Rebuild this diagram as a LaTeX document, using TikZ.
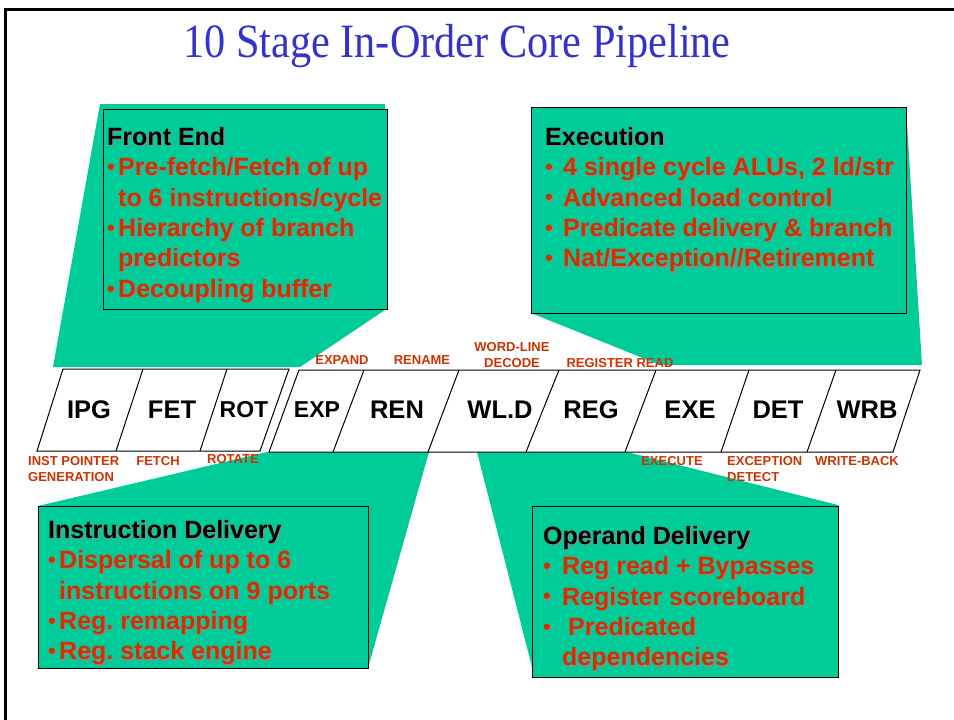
\documentclass[tikz,border=0pt]{standalone}
\usepackage{fontspec}
\setmainfont{Liberation Sans}
\newfontfamily\titlefont{Liberation Serif}
\definecolor{callout}{RGB}{0,204,153}
\definecolor{itemred}{RGB}{204,51,0}
\definecolor{titleblue}{RGB}{51,51,204}
\definecolor{txshadow}{RGB}{140,140,140}
% text with a small grey drop shadow
\newcommand\shd[2]{\rlap{\kern1.2pt\raisebox{-1.2pt}{\textcolor{txshadow}{#2}}}\textcolor{#1}{#2}}
% bullet set in a box of given width
\newcommand\bul[1]{\makebox[#1][l]{\raisebox{1.2pt}{\fontsize{22}{22}\selectfont\textbullet}}}
\begin{document}
\begin{tikzpicture}[x=1pt,y=-1pt,
  calloutbox/.style={draw=black,line width=1pt,fill=callout},
  stageshape/.style={draw=black,line width=1pt,fill=white},
  stagename/.style={font=\fontsize{25.5}{28}\selectfont\bfseries,inner sep=0,anchor=base},
  stagesmall/.style={font=\fontsize{23}{26}\selectfont\bfseries,inner sep=0,anchor=base},
  stagenote/.style={font=\fontsize{13}{16}\selectfont\bfseries,text=itemred,inner sep=0},
  boxtext/.style={font=\fontsize{25}{30.4}\selectfont\bfseries,inner sep=0,anchor=north west,align=left}]
\useasboundingbox (0,0) rectangle (954,720);

% slide frame
\draw[line width=3pt] (5.5,720) -- (5.5,9.5) -- (954,9.5);

% title (slightly condensed serif)
\node[font=\titlefont\fontsize{42.3}{46}\selectfont,text=titleblue,inner sep=0,anchor=base] (title) at (457,57) {\scalebox{1}[1.13]{10 Stage In-Order Core Pipeline}};

% callout wedges
\fill[callout] (100,104) -- (385,104) -- (385,310) -- (300,367) -- (53,367) -- cycle;
\fill[callout] (531,107) -- (906,107) -- (922,365) -- (660,365) -- (531,313) -- cycle;
\fill[callout] (38,506) -- (267,452) -- (429,452) -- (368,668) -- (38,668) -- cycle;
\fill[callout] (477,452) -- (627,452) -- (838,505) -- (838,677) -- (532,677) -- (532,667) -- cycle;

% callout boxes
\draw[calloutbox] (103,109) rectangle (387,309);
\draw[calloutbox] (531,107) rectangle (906,313);
\draw[calloutbox] (38,506) rectangle (368,668);
\draw[calloutbox] (532,506) rectangle (838,677);

% pipeline stages, front group
\draw[stageshape] (37,451) -- (63,369) -- (289,369) -- (260,451) -- cycle;
\draw[line width=1pt] (143,369) -- (116,451) (227,369) -- (200,451);
% pipeline stages, back group
\draw[stageshape] (269,452) -- (299,370) -- (920,370) -- (893,452) -- cycle;
\draw[line width=1pt] (364,370) -- (333,452) (459,370) -- (428,452) (559,370) -- (526,452)
  (656,370) -- (625,452) (749,370) -- (721,452) (836,370) -- (807,452);

% stage names
\node[stagename] (ipg) at (89,418) {IPG};
\node[stagename] (fet) at (172,418) {FET};
\node[stagesmall] (rot) at (244,417) {ROT};
\node[stagesmall] (exp) at (317,417) {EXP};
\node[stagename] (ren) at (397,418) {REN};
\node[stagename] (wld) at (500,418) {WL.D};
\node[stagename] (reg) at (591,418) {REG};
\node[stagename] (exe) at (690,418) {EXE};
\node[stagename] (det) at (778,418) {DET};
\node[stagename] (wrb) at (867,418) {WRB};

% stage descriptions
\node[stagenote] (nexpand) at (342,360) {EXPAND};
\node[stagenote] (nrename) at (422,360) {RENAME};
\node[stagenote,align=center] (nwordline) at (512,355) {WORD-LINE\\DECODE};
\node[stagenote] (nregread) at (620,363) {REGISTER READ};
\node[stagenote,align=left,anchor=west] (ninstptr) at (28,469) {INST POINTER\\GENERATION};
\node[stagenote] (nfetch) at (158,461) {FETCH};
\node[stagenote] (nrotate) at (233,459) {ROTATE};
\node[stagenote] (nexecute) at (672,461) {EXECUTE};
\node[stagenote,align=left,anchor=west] (nexcept) at (727,469) {EXCEPTION\\DETECT};
\node[stagenote] (nwriteback) at (857,461) {WRITE-BACK};

% callout texts
\node[boxtext] (frontend) at (107,127) {%
  \shd{black}{Front End}\\
  \shd{itemred}{\bul{11pt}Pre-fetch/Fetch of up}\\
  \shd{itemred}{\hspace*{11pt}to 6 instructions/cycle}\\
  \shd{itemred}{\bul{11pt}Hierarchy of branch}\\
  \shd{itemred}{\hspace*{11pt}predictors}\\
  \shd{itemred}{\bul{11pt}Decoupling buffer}};
\node[boxtext] (execution) at (545,127) {%
  \shd{black}{Execution}\\
  \shd{itemred}{\bul{18pt}4 single cycle ALUs, 2 ld/str}\\
  \shd{itemred}{\bul{18pt}Advanced load control}\\
  \shd{itemred}{\bul{18pt}Predicate delivery \& branch}\\
  \shd{itemred}{\bul{18pt}Nat/Exception//Retirement}};
\node[boxtext] (instdelivery) at (48,520) {%
  \shd{black}{Instruction Delivery}\\
  \shd{itemred}{\bul{11pt}Dispersal of up to 6}\\
  \shd{itemred}{\hspace*{11pt}instructions on 9 ports}\\
  \shd{itemred}{\bul{11pt}Reg.\ remapping}\\
  \shd{itemred}{\bul{11pt}Reg.\ stack engine}};
\node[boxtext] (opdelivery) at (543,526) {%
  \shd{black}{Operand Delivery}\\
  \shd{itemred}{\bul{19pt}Reg read + Bypasses}\\
  \shd{itemred}{\bul{19pt}Register scoreboard}\\
  \shd{itemred}{\bul{19pt}\hspace*{6pt}Predicated}\\
  \shd{itemred}{\hspace*{19pt}dependencies}};
\end{tikzpicture}
\end{document}
